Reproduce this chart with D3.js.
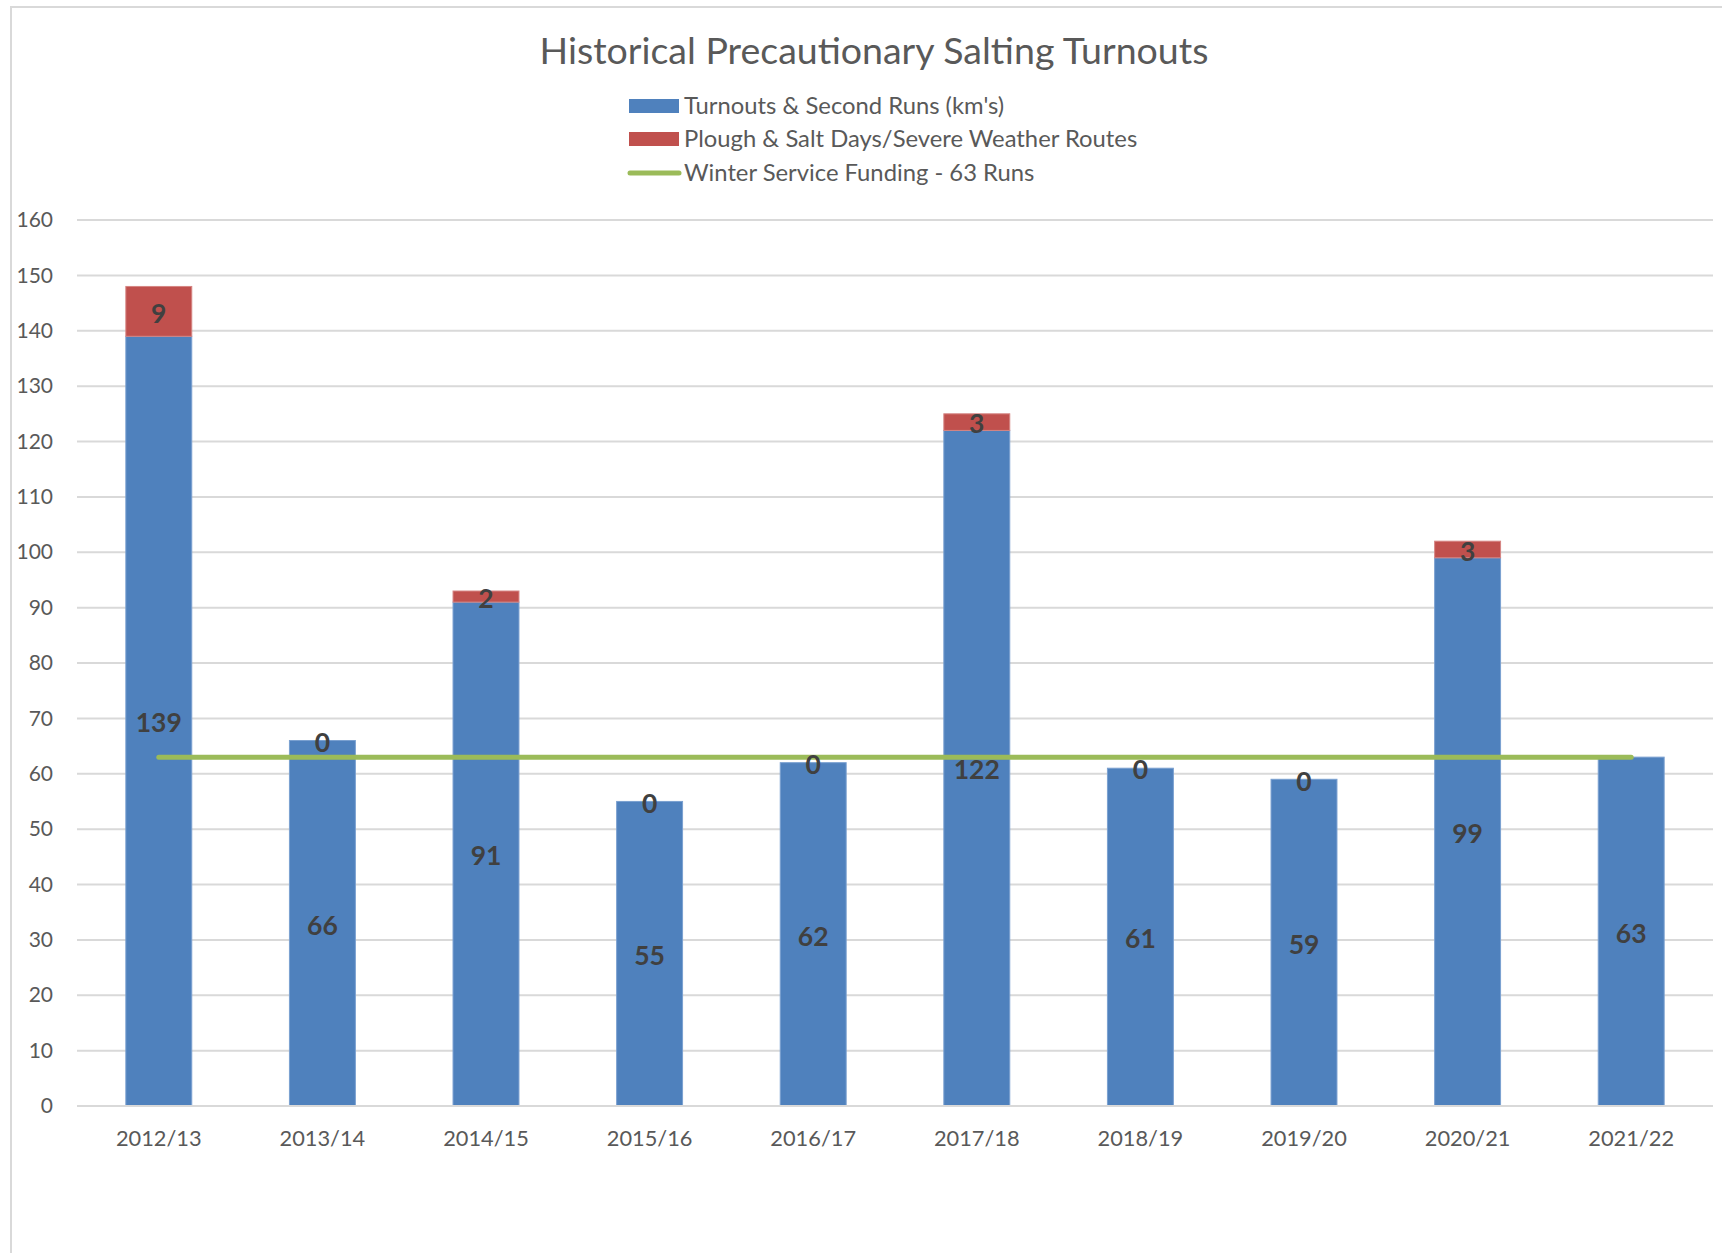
<!DOCTYPE html>
<html>
<head>
<meta charset="utf-8">
<script src="https://cdn.jsdelivr.net/npm/d3@7"></script>
<style>
  html, body { margin: 0; padding: 0; background: #fff; }
  svg { display: block; }
  text { font-family: Lato, "Open Sans", sans-serif; }
</style>
</head>
<body>
<script>
// ---- data ----
const categories = ["2012/13","2013/14","2014/15","2015/16","2016/17","2017/18","2018/19","2019/20","2020/21","2021/22"];
const turnouts   = [139, 66, 91, 55, 62, 122, 61, 59, 99, 63];
const plough     = [9, 0, 2, 0, 0, 3, 0, 0, 3, null];
const funding    = [63, 63, 63, 63, 63, 63, 63, 63, 63, 63];
const yTicks     = [0,10,20,30,40,50,60,70,80,90,100,110,120,130,140,150,160];
const seriesNames = ["Turnouts & Second Runs (km's)", "Plough & Salt Days/Severe Weather Routes", "Winter Service Funding - 63 Runs"];
const title = "Historical Precautionary Salting Turnouts";

const W = 1722, H = 1253;
const colors = { blue: "#4F81BD", red: "#C0504D", green: "#9BBB59", grid: "#D9D9D9", text: "#595959", label: "#404040" };

const svg = d3.select("body").append("svg").attr("width", W).attr("height", H);

// chart border
svg.append("rect").attr("x", 11).attr("y", 7).attr("width", W + 20).attr("height", H + 20)
  .attr("fill", "none").attr("stroke", colors.grid).attr("stroke-width", 2);

const plot = { left: 77, right: 1713, top: 220, bottom: 1106 };

const x = d3.scaleBand().domain(categories).range([plot.left, plot.right]).padding(0);
const y = d3.scaleLinear().domain([0, 160]).range([plot.bottom, plot.top]);
const barW = x.bandwidth() * 0.403;

// gridlines
svg.append("g").selectAll("line").data(yTicks).join("line")
  .attr("x1", plot.left).attr("x2", plot.right)
  .attr("y1", d => y(d)).attr("y2", d => y(d))
  .attr("stroke", colors.grid).attr("stroke-width", 2);

// y axis labels
const yAxis = svg.append("g").attr("transform", `translate(53,0)`)
  .call(d3.axisLeft(y).tickValues(yTicks).tickSize(0).tickPadding(0));
yAxis.select(".domain").remove();
yAxis.selectAll("text").attr("fill", colors.text).style("font-size", "21px").style("font-family", "Lato");

// x axis labels
const xAxis = svg.append("g").attr("transform", `translate(0,${plot.bottom})`)
  .call(d3.axisBottom(x).tickSize(0).tickPadding(25));
xAxis.select(".domain").remove();
xAxis.selectAll("text").attr("fill", colors.text).style("font-size", "21.8px").style("font-family", "Lato");

// bars
const bx = d => x(d) + x.bandwidth() / 2 - barW / 2;
svg.append("g").selectAll("rect").data(categories).join("rect")
  .attr("x", d => bx(d)).attr("width", barW)
  .attr("y", (d, i) => y(turnouts[i])).attr("height", (d, i) => y(0) - y(turnouts[i]))
  .attr("fill", colors.blue).attr("stroke", "#7AA0D0").attr("stroke-width", 1);

svg.append("g").selectAll("rect").data(categories).join("rect")
  .filter((d, i) => plough[i] > 0)
  .attr("x", d => bx(d)).attr("width", barW)
  .attr("y", d => y(turnouts[categories.indexOf(d)] + plough[categories.indexOf(d)]))
  .attr("height", d => y(0) - y(plough[categories.indexOf(d)]))
  .attr("fill", colors.red).attr("stroke", "#D68583").attr("stroke-width", 1);

// x axis baseline
svg.append("line").attr("x1", plot.left).attr("x2", plot.right)
  .attr("y1", y(0)).attr("y2", y(0)).attr("stroke", colors.grid).attr("stroke-width", 2);

// funding line
const line = d3.line().x(d => x(d) + x.bandwidth() / 2).y(d => y(funding[categories.indexOf(d)]));
svg.append("path").datum(categories).attr("d", line)
  .attr("fill", "none").attr("stroke", colors.green).attr("stroke-width", 5).attr("stroke-linecap", "round");

// data labels
const labels = svg.append("g").attr("fill", colors.label).style("font-size", "26.5px").style("font-weight", "bold")
  .attr("text-anchor", "middle");
categories.forEach((c, i) => {
  const cx = x(c) + x.bandwidth() / 2;
  labels.append("text").attr("x", cx).attr("y", y(turnouts[i] / 2) + 2).attr("dy", "0.35em").text(turnouts[i]);
  if (plough[i] !== null) {
    labels.append("text").attr("x", cx).attr("y", y(turnouts[i] + plough[i] / 2) + 2).attr("dy", "0.35em").text(plough[i]);
  }
});

// title
svg.append("text").attr("x", 874).attr("y", 64).attr("text-anchor", "middle")
  .attr("fill", colors.text).style("font-size", "37.5px").text(title);

// legend
const legend = svg.append("g");
const rowsY = [106, 139, 173];
seriesNames.forEach((name, i) => {
  const g = legend.append("g").attr("transform", `translate(0,${rowsY[i]})`);
  if (i < 2) {
    g.append("rect").attr("x", 629).attr("y", -7).attr("width", 50).attr("height", 14)
      .attr("fill", i === 0 ? colors.blue : colors.red);
  } else {
    g.append("line").attr("x1", 630).attr("x2", 679).attr("y1", 0).attr("y2", 0)
      .attr("stroke", colors.green).attr("stroke-width", 5).attr("stroke-linecap", "round");
  }
  g.append("text").attr("x", 684).attr("y", 0).attr("dy", "0.35em")
    .attr("fill", colors.text).style("font-size", "23.8px").text(name);
});
</script>
</body>
</html>
